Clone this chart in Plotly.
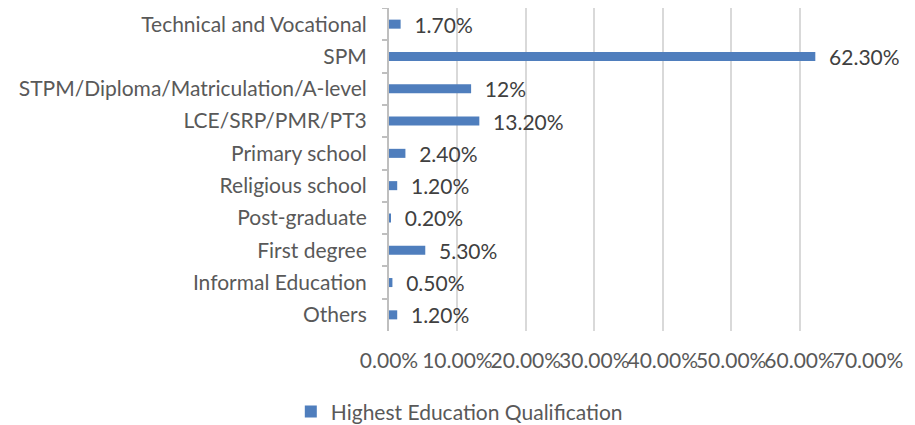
import plotly.graph_objects as go

categories = ["Technical and Vocational", "SPM", "STPM/Diploma/Matriculation/A-level",
              "LCE/SRP/PMR/PT3", "Primary school", "Religious school", "Post-graduate",
              "First degree", "Informal Education", "Others"]
values = [1.7, 62.3, 12, 13.2, 2.4, 1.2, 0.2, 5.3, 0.5, 1.2]
labels = ["1.70%", "62.30%", "12%", "13.20%", "2.40%", "1.20%", "0.20%", "5.30%", "0.50%", "1.20%"]
x_ticks = [0, 10, 20, 30, 40, 50, 60, 70]
series_name = "Highest Education Qualification"

FONT = "Lato, Carlito, Calibri, sans-serif"
GRAY = "#595959"
FS = 21

fig = go.Figure()
fig.add_trace(go.Bar(
    y=categories, x=values, orientation="h", name=series_name,
    marker=dict(color="#4F7EBD", line=dict(width=0)),
    text=["\u00a0\u00a0" + t for t in labels], textposition="outside",
    textfont=dict(family=FONT, size=FS, color="#404040"),
    constraintext="none", cliponaxis=False, showlegend=True,
))

# page body has an 8px margin, so the figure is sized to fit inside the window
fig.update_layout(
    width=907, height=417,
    margin=dict(l=381, r=47, t=0, b=94, autoexpand=False),
    paper_bgcolor="white", plot_bgcolor="white",
    bargap=0.72,
    font=dict(family=FONT, size=FS, color=GRAY),
    showlegend=True,
    legend=dict(orientation="h", x=-0.205, xanchor="left", y=-0.25, yanchor="middle",
                font=dict(family=FONT, size=FS, color=GRAY), itemwidth=30),
)
fig.update_xaxes(
    range=[0, 70], tickvals=x_ticks, ticktext=[f"{v:.2f}%" for v in x_ticks],
    tickangle=0,
    showgrid=True, gridcolor="#D9D9D9", gridwidth=2, zeroline=False,
    showline=False, ticks="", ticklabelstandoff=15, automargin=False,
    tickfont=dict(family=FONT, size=FS, color=GRAY),
)
fig.update_yaxes(
    categoryorder="array", categoryarray=categories, autorange="reversed",
    showline=True, linecolor="#BFBFBF", linewidth=2,
    ticks="outside", tickson="boundaries", ticklen=5, tickcolor="#BFBFBF", tickwidth=2,
    ticklabelstandoff=16, showgrid=False, automargin=False,
    tickfont=dict(family=FONT, size=FS, color=GRAY),
)

fig.write_html("out.html")
